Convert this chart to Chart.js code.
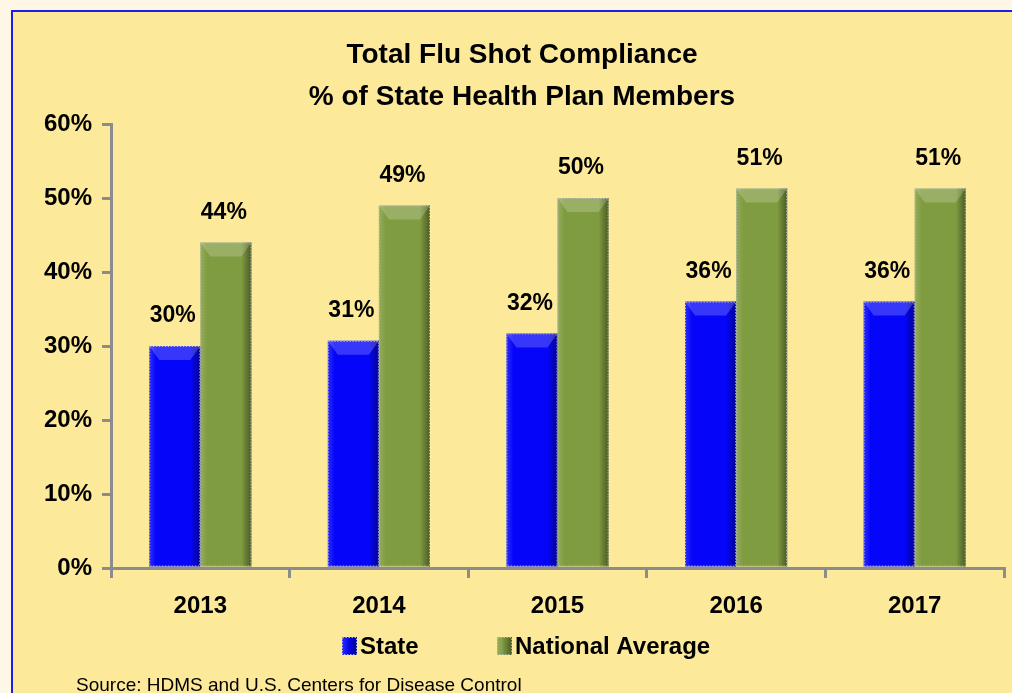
<!DOCTYPE html>
<html>
<head>
<meta charset="utf-8">
<script src="https://cdn.jsdelivr.net/npm/chart.js@4/dist/chart.umd.min.js"></script>
<style>
  html, body { margin: 0; padding: 0; background: #FEF7E6; }
  #wrap { position: relative; width: 1012px; height: 693px; }
  canvas { display: block; }
</style>
</head>
<body>
<div id="wrap"><canvas id="c" width="1012" height="693"></canvas></div>
<script>
// ---- data ----
const categories = ['2013', '2014', '2015', '2016', '2017'];
const stateValues = [30, 30.7, 31.7, 36, 36];
const nationalValues = [44, 49, 50, 51.3, 51.3];
const stateLabels = ['30%', '31%', '32%', '36%', '36%'];
const nationalLabels = ['44%', '49%', '50%', '51%', '51%'];
const yTicks = [0, 10, 20, 30, 40, 50, 60];
const titleLines = ['Total Flu Shot Compliance', '% of State Health Plan Members'];
const seriesNames = ['State', 'National Average'];
const sourceText = 'Source: HDMS and U.S. Centers for Disease Control';

const FONT = '"Liberation Sans", Arial, Helvetica, sans-serif';
const BLUE = '#0505FA';
const GREEN = '#809C40';
const AXIS = '#8C8C8C';

function bevel(ctx, l, t, w, h, topDepth) {
  const r = l + w;
  let g = ctx.createLinearGradient(r - 10, 0, r, 0);
  g.addColorStop(0, 'rgba(0,0,0,0)');
  g.addColorStop(1, 'rgba(0,0,0,0.42)');
  ctx.fillStyle = g;
  ctx.fillRect(r - 10, t, 10, h);
  g = ctx.createLinearGradient(l, 0, l + 7, 0);
  g.addColorStop(0, 'rgba(255,255,255,0.16)');
  g.addColorStop(1, 'rgba(255,255,255,0)');
  ctx.fillStyle = g;
  ctx.fillRect(l, t, 7, h);
  if (topDepth > 0) {
    ctx.fillStyle = 'rgba(255,255,255,0.2)';
    ctx.beginPath();
    ctx.moveTo(l, t);
    ctx.lineTo(r, t);
    ctx.lineTo(r - 10, t + topDepth);
    ctx.lineTo(l + 10, t + topDepth);
    ctx.closePath();
    ctx.fill();
  }
  ctx.strokeStyle = 'rgba(190,190,200,0.9)';
  ctx.lineWidth = 1;
  ctx.setLineDash([1.5, 1.5]);
  ctx.strokeRect(l + 0.5, t + 0.5, w - 1, h - 1);
  ctx.setLineDash([]);
}

const backgroundPlugin = {
  id: 'bg',
  beforeDraw(chart) {
    const ctx = chart.ctx;
    ctx.save();
    ctx.fillStyle = '#FEF7E6';
    ctx.fillRect(0, 0, chart.width, chart.height);
    ctx.fillStyle = '#FCE99A';
    ctx.fillRect(11, 10, chart.width - 11, chart.height - 10);
    ctx.strokeStyle = '#1E1EE6';
    ctx.lineWidth = 2;
    ctx.beginPath();
    ctx.moveTo(12, chart.height);
    ctx.lineTo(12, 11);
    ctx.lineTo(chart.width, 11);
    ctx.stroke();
    ctx.restore();
  },
  afterDraw(chart) {
    const ctx = chart.ctx;
    ctx.save();
    // legend
    const colors = [BLUE, GREEN];
    const legendX = [342, 497];
    ctx.font = 'bold 24px ' + FONT;
    ctx.textBaseline = 'alphabetic';
    ctx.textAlign = 'left';
    seriesNames.forEach((name, i) => {
      ctx.fillStyle = colors[i];
      ctx.fillRect(legendX[i], 637, 15, 18);
      bevel(ctx, legendX[i], 637, 15, 18, 0);
      ctx.fillStyle = '#000';
      ctx.fillText(name, legendX[i] + 18, 654);
    });
    // source
    ctx.fillStyle = '#000';
    ctx.font = '19px ' + FONT;
    ctx.fillText(sourceText, 76, 691);
    ctx.restore();
  }
};

const bevelPlugin = {
  id: 'bevel',
  afterDatasetsDraw(chart) {
    const ctx = chart.ctx;
    ctx.save();
    chart.data.datasets.forEach((ds, di) => {
      const meta = chart.getDatasetMeta(di);
      meta.data.forEach((bar) => {
        const l = bar.x - bar.width / 2;
        bevel(ctx, l, bar.y, bar.width, bar.base - bar.y, 14);
      });
    });
    ctx.restore();
  }
};

const labelPlugin = {
  id: 'valueLabels',
  afterDatasetsDraw(chart) {
    const ctx = chart.ctx;
    const texts = [stateLabels, nationalLabels];
    ctx.save();
    ctx.fillStyle = '#000';
    ctx.font = 'bold 23px ' + FONT;
    ctx.textAlign = 'center';
    ctx.textBaseline = 'middle';
    chart.data.datasets.forEach((ds, di) => {
      const meta = chart.getDatasetMeta(di);
      meta.data.forEach((bar, i) => {
        ctx.fillText(texts[di][i], bar.x - 2, bar.y - 30);
      });
    });
    ctx.restore();
  }
};

new Chart(document.getElementById('c'), {
  type: 'bar',
  data: {
    labels: categories,
    datasets: [
      { label: seriesNames[0], data: stateValues, backgroundColor: BLUE, borderWidth: 0,
        barPercentage: 1.0, categoryPercentage: 0.572 },
      { label: seriesNames[1], data: nationalValues, backgroundColor: GREEN, borderWidth: 0,
        barPercentage: 1.0, categoryPercentage: 0.572 }
    ]
  },
  options: {
    responsive: false,
    animation: false,
    devicePixelRatio: 1,
    layout: { padding: { top: 10, left: 40, right: 8, bottom: 73 } },
    plugins: {
      title: {
        display: true,
        text: titleLines,
        color: '#000',
        font: { family: FONT, size: 28, weight: 'bold', lineHeight: 1.5 },
        padding: { top: 24, bottom: 6 }
      },
      legend: { display: false },
      tooltip: { enabled: false }
    },
    scales: {
      x: {
        afterFit(scale) { scale.height = 52; },
        grid: { display: true, drawOnChartArea: false, drawTicks: true, tickLength: 10,
                color: AXIS, lineWidth: 3, offset: true },
        border: { display: true, color: AXIS, width: 3 },
        ticks: { color: '#000', font: { family: FONT, size: 24, weight: 'bold' }, padding: 14 }
      },
      y: {
        min: 0,
        max: 60,
        afterFit(scale) { scale.width = 71; },
        afterBuildTicks(scale) { scale.ticks = yTicks.map(v => ({ value: v })); },
        grid: { display: true, drawOnChartArea: false, drawTicks: true, tickLength: 9,
                color: AXIS, lineWidth: 3 },
        border: { display: true, color: AXIS, width: 3 },
        ticks: { color: '#000', font: { family: FONT, size: 24, weight: 'bold' }, padding: 10,
                 callback: (v) => v + '%' }
      }
    }
  },
  plugins: [backgroundPlugin, bevelPlugin, labelPlugin]
});
</script>
</body>
</html>
